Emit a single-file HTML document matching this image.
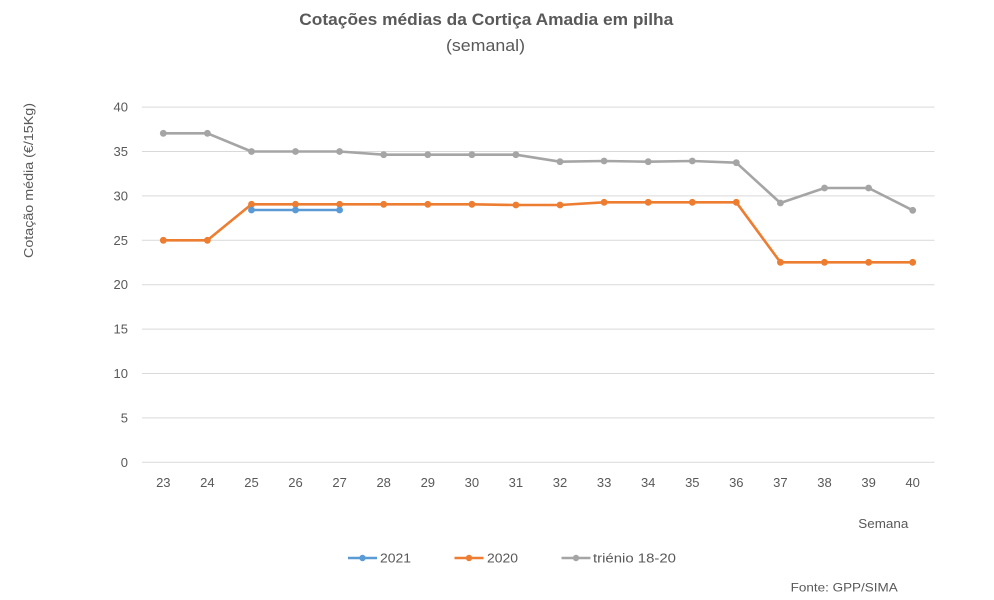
<!DOCTYPE html>
<html><head><meta charset="utf-8"><style>
html,body{margin:0;padding:0;background:#fff;}
svg{display:block;font-family:"Liberation Sans",Arial,sans-serif;}
</style></head><body>
<svg width="994" height="600" viewBox="0 0 994 600" xmlns="http://www.w3.org/2000/svg">
<rect width="994" height="600" fill="#fff"/>
<text x="486.3" y="25" text-anchor="middle" font-size="17" font-weight="bold" fill="#595959" textLength="374" lengthAdjust="spacingAndGlyphs">Cotações médias da Cortiça Amadia em pilha</text>
<text x="485.5" y="51" text-anchor="middle" font-size="17" fill="#595959" textLength="79" lengthAdjust="spacingAndGlyphs">(semanal)</text>
<g stroke="#D9D9D9" stroke-width="1">
<line x1="142" x2="934.5" y1="107.1" y2="107.1"/>
<line x1="142" x2="934.5" y1="151.5" y2="151.5"/>
<line x1="142" x2="934.5" y1="195.9" y2="195.9"/>
<line x1="142" x2="934.5" y1="240.3" y2="240.3"/>
<line x1="142" x2="934.5" y1="284.7" y2="284.7"/>
<line x1="142" x2="934.5" y1="329.1" y2="329.1"/>
<line x1="142" x2="934.5" y1="373.5" y2="373.5"/>
<line x1="142" x2="934.5" y1="417.9" y2="417.9"/>
<line x1="142" x2="934.5" y1="462.3" y2="462.3"/>
</g>
<g font-size="13" fill="#595959" text-anchor="end">
<text x="128" y="111.6">40</text>
<text x="128" y="156">35</text>
<text x="128" y="200.4">30</text>
<text x="128" y="244.8">25</text>
<text x="128" y="289.2">20</text>
<text x="128" y="333.6">15</text>
<text x="128" y="378">10</text>
<text x="128" y="422.4">5</text>
<text x="128" y="466.8">0</text>
</g>
<g font-size="13" fill="#595959" text-anchor="middle">
<text x="163.3" y="487">23</text>
<text x="207.4" y="487">24</text>
<text x="251.5" y="487">25</text>
<text x="295.5" y="487">26</text>
<text x="339.6" y="487">27</text>
<text x="383.7" y="487">28</text>
<text x="427.8" y="487">29</text>
<text x="471.9" y="487">30</text>
<text x="515.9" y="487">31</text>
<text x="560" y="487">32</text>
<text x="604.1" y="487">33</text>
<text x="648.2" y="487">34</text>
<text x="692.3" y="487">35</text>
<text x="736.3" y="487">36</text>
<text x="780.4" y="487">37</text>
<text x="824.5" y="487">38</text>
<text x="868.6" y="487">39</text>
<text x="912.7" y="487">40</text>
</g>
<text transform="translate(33,180.5) rotate(-90)" text-anchor="middle" font-size="13" fill="#595959" textLength="155" lengthAdjust="spacingAndGlyphs">Cotação média (€/15Kg)</text>
<text x="883.3" y="528" text-anchor="middle" font-size="13" fill="#595959" textLength="50" lengthAdjust="spacingAndGlyphs">Semana</text>
<!-- triénio -->
<polyline fill="none" stroke="#A5A5A5" stroke-width="2.6" stroke-linejoin="round" points="163.3,133.3 207.4,133.3 251.5,151.5 295.5,151.5 339.6,151.5 383.7,154.7 427.8,154.7 471.9,154.7 515.9,154.7 560,161.7 604.1,161 648.2,161.7 692.3,161 736.3,162.7 780.4,203 824.5,188 868.6,188 912.7,210.3"/>
<g fill="#A5A5A5">
<circle cx="163.3" cy="133.3" r="3.4"/><circle cx="207.4" cy="133.3" r="3.4"/><circle cx="251.5" cy="151.5" r="3.4"/><circle cx="295.5" cy="151.5" r="3.4"/><circle cx="339.6" cy="151.5" r="3.4"/><circle cx="383.7" cy="154.7" r="3.4"/><circle cx="427.8" cy="154.7" r="3.4"/><circle cx="471.9" cy="154.7" r="3.4"/><circle cx="515.9" cy="154.7" r="3.4"/><circle cx="560" cy="161.7" r="3.4"/><circle cx="604.1" cy="161" r="3.4"/><circle cx="648.2" cy="161.7" r="3.4"/><circle cx="692.3" cy="161" r="3.4"/><circle cx="736.3" cy="162.7" r="3.4"/><circle cx="780.4" cy="203" r="3.4"/><circle cx="824.5" cy="188" r="3.4"/><circle cx="868.6" cy="188" r="3.4"/><circle cx="912.7" cy="210.3" r="3.4"/>
</g>
<!-- 2020 -->
<polyline fill="none" stroke="#ED7D31" stroke-width="2.6" stroke-linejoin="round" points="163.3,240.3 207.4,240.3 251.5,204.3 295.5,204.3 339.6,204.3 383.7,204.3 427.8,204.3 471.9,204.3 515.9,205 560,205 604.1,202.3 648.2,202.3 692.3,202.3 736.3,202.3 780.4,262.3 824.5,262.3 868.6,262.3 912.7,262.3"/>
<g fill="#ED7D31">
<circle cx="163.3" cy="240.3" r="3.4"/><circle cx="207.4" cy="240.3" r="3.4"/><circle cx="251.5" cy="204.3" r="3.4"/><circle cx="295.5" cy="204.3" r="3.4"/><circle cx="339.6" cy="204.3" r="3.4"/><circle cx="383.7" cy="204.3" r="3.4"/><circle cx="427.8" cy="204.3" r="3.4"/><circle cx="471.9" cy="204.3" r="3.4"/><circle cx="515.9" cy="205" r="3.4"/><circle cx="560" cy="205" r="3.4"/><circle cx="604.1" cy="202.3" r="3.4"/><circle cx="648.2" cy="202.3" r="3.4"/><circle cx="692.3" cy="202.3" r="3.4"/><circle cx="736.3" cy="202.3" r="3.4"/><circle cx="780.4" cy="262.3" r="3.4"/><circle cx="824.5" cy="262.3" r="3.4"/><circle cx="868.6" cy="262.3" r="3.4"/><circle cx="912.7" cy="262.3" r="3.4"/>
</g>
<!-- 2021 -->
<polyline fill="none" stroke="#5B9BD5" stroke-width="2.6" points="251.5,210 295.5,210 339.6,210"/>
<g fill="#5B9BD5">
<circle cx="251.5" cy="210" r="3.4"/><circle cx="295.5" cy="210" r="3.4"/><circle cx="339.6" cy="210" r="3.4"/>
</g>
<!-- legend -->
<line x1="348" x2="377" y1="558" y2="558" stroke="#5B9BD5" stroke-width="2.6"/>
<circle cx="362.5" cy="558" r="3.2" fill="#5B9BD5"/>
<text x="380" y="562.5" font-size="13" fill="#595959" textLength="31" lengthAdjust="spacingAndGlyphs">2021</text>
<line x1="454.5" x2="483.5" y1="558" y2="558" stroke="#ED7D31" stroke-width="2.6"/>
<circle cx="469" cy="558" r="3.2" fill="#ED7D31"/>
<text x="487" y="562.5" font-size="13" fill="#595959" textLength="31" lengthAdjust="spacingAndGlyphs">2020</text>
<line x1="561.5" x2="590.5" y1="558" y2="558" stroke="#A5A5A5" stroke-width="2.6"/>
<circle cx="576" cy="558" r="3.2" fill="#A5A5A5"/>
<text x="593" y="562.5" font-size="13" fill="#595959" textLength="83" lengthAdjust="spacingAndGlyphs">triénio 18-20</text>
<text x="790.7" y="591.7" font-size="12" fill="#595959" textLength="107" lengthAdjust="spacingAndGlyphs">Fonte: GPP/SIMA</text>
</svg>
</body></html>
